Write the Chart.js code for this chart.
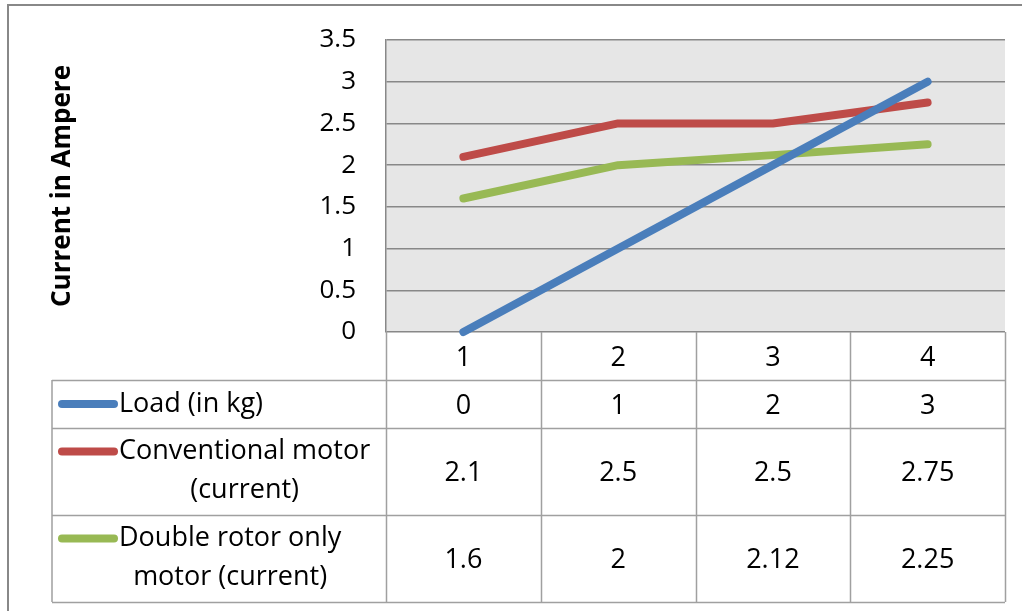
<!DOCTYPE html>
<html>
<head>
<meta charset="utf-8">
<script src="https://cdn.jsdelivr.net/npm/chart.js@4/dist/chart.umd.min.js"></script>
<style>
  body { margin: 0; background: #fff; }
  canvas { display: block; }
</style>
</head>
<body>
<canvas id="motorChart" width="1022" height="611"></canvas>
<script>
// values
const categories = ["1", "2", "3", "4"];
const loadKg = [0, 1, 2, 3];
const conventional = [2.1, 2.5, 2.5, 2.75];
const doubleRotor = [1.6, 2, 2.12, 2.25];
const seriesLabels = [["Load (in kg)"], ["Conventional motor", "(current)"], ["Double rotor only", "motor (current)"]];
const yMin = 0, yMax = 3.5, yStep = 0.5;
const yTitle = "Current in Ampere";

const colors = ["#4A7EBB", "#BE4B48", "#98B954"];
const gridColor = "#888888";
const font = "'Open Sans', 'DejaVu Sans', sans-serif";

// table rows under the plot (y positions of the row lines)
const rowLines = [380, 428, 515, 602];
const tableLeft = 52;

const tablePlugin = {
    id: "tablePlugin",
    beforeDraw(chart) {
        const ctx = chart.ctx;
        const a = chart.chartArea;
        ctx.save();
        ctx.fillStyle = "#E6E6E6";
        ctx.fillRect(a.left, a.top, a.right - a.left, a.bottom - a.top);
        // outer frame
        ctx.strokeStyle = gridColor;
        ctx.lineWidth = 2;
        ctx.beginPath();
        ctx.moveTo(8, 611);
        ctx.lineTo(8, 5);
        ctx.lineTo(1022, 5);
        ctx.stroke();
        ctx.restore();
    },
    afterDraw(chart) {
        const ctx = chart.ctx;
        const a = chart.chartArea;
        const x = chart.scales.x;
        const colW = (a.right - a.left) / categories.length;
        const datasets = chart.data.datasets;
        ctx.save();
        ctx.strokeStyle = "#A0A0A0";
        ctx.lineWidth = 1.5;
        ctx.beginPath();
        // vertical lines
        for (let i = 0; i <= categories.length; i++) {
            const cx = Math.round(a.left + i * colW) + 0.5;
            ctx.moveTo(cx, a.bottom);
            ctx.lineTo(cx, rowLines[rowLines.length - 1]);
        }
        ctx.moveTo(tableLeft, rowLines[0]);
        ctx.lineTo(tableLeft, rowLines[rowLines.length - 1]);
        rowLines.forEach(y => {
            ctx.moveTo(tableLeft, y + 0.5);
            ctx.lineTo(a.right, y + 0.5);
        });
        ctx.stroke();

        ctx.fillStyle = "#000";
        ctx.font = "27px " + font;
        ctx.textAlign = "center";
        ctx.textBaseline = "middle";
        // header row with categories
        categories.forEach((c, i) => {
            ctx.fillText(c, x.getPixelForValue(i), (a.bottom + rowLines[0]) / 2 + 2);
        });
        // data rows
        datasets.forEach((ds, r) => {
            const top = rowLines[r], bottom = rowLines[r + 1];
            const mid = (top + bottom) / 2;
            ds.data.forEach((v, i) => {
                ctx.fillText(String(v), x.getPixelForValue(i), mid + 2);
            });
            const lines = seriesLabels[r];
            const firstY = lines.length > 1 ? mid - 20 : mid;
            // legend key
            ctx.strokeStyle = ds.borderColor;
            ctx.lineWidth = 8;
            ctx.lineCap = "round";
            ctx.beginPath();
            ctx.moveTo(62, firstY);
            ctx.lineTo(114, firstY);
            ctx.stroke();
            ctx.textAlign = "left";
            ctx.fillText(lines[0], 119, firstY);
            if (lines.length > 1) {
                const w = ctx.measureText(lines[0]).width;
                ctx.textAlign = "center";
                ctx.fillText(lines[1], 119 + w / 2, firstY + 39);
            }
            ctx.textAlign = "center";
        });

        // y axis title
        ctx.font = "bold 26px " + font;
        ctx.translate(63, (a.top + a.bottom) / 2);
        ctx.rotate(-Math.PI / 2);
        ctx.fillText(yTitle, 0, 0);
        ctx.restore();
    }
};

function lineSet(label, data, color) {
    return {
        label: label,
        data: data,
        borderColor: color,
        backgroundColor: color,
        borderWidth: 8,
        borderCapStyle: "round",
        borderJoinStyle: "round",
        pointRadius: 0,
        tension: 0,
        clip: 10
    };
}

new Chart(document.getElementById("motorChart"), {
    type: "line",
    data: {
        labels: categories,
        datasets: [
            lineSet(seriesLabels[0].join(" "), loadKg, colors[0]),
            lineSet(seriesLabels[1].join(" "), conventional, colors[1]),
            lineSet(seriesLabels[2].join(" "), doubleRotor, colors[2])
        ]
    },
    options: {
        responsive: false,
        animation: false,
        layout: { padding: { top: 40, right: 17, bottom: 279, left: 0 } },
        plugins: {
            legend: { display: false },
            tooltip: { enabled: false }
        },
        scales: {
            x: {
                type: "category",
                offset: true,
                display: false
            },
            y: {
                min: yMin,
                max: yMax,
                ticks: {
                    stepSize: yStep,
                    color: "#000",
                    padding: 30,
                    font: { family: font, size: 26 },
                    callback: v => String(v)
                },
                grid: { color: gridColor, lineWidth: 1.5, drawTicks: false },
                border: { color: gridColor, width: 1.5 },
                afterFit(scale) {
                    scale.width = 386;
                    scale.paddingTop = 0;
                    scale.paddingBottom = 0;
                }
            }
        }
    },
    plugins: [tablePlugin]
});
</script>
</body>
</html>
